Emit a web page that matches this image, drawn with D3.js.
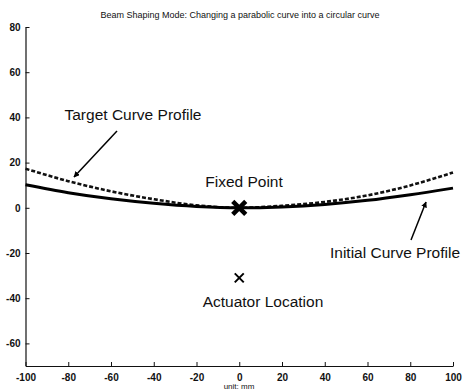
<!DOCTYPE html>
<html>
<head>
<meta charset="utf-8">
<script src="https://cdn.jsdelivr.net/npm/d3@7"></script>
<style>
  body { margin: 0; background: #fff; }
  svg { display: block; font-family: "Liberation Sans", Arial, sans-serif; }
</style>
</head>
<body>
<svg id="chart" width="464" height="391"></svg>
<script>
// values (unit: mm)
const xPos = [-100, -80, -60, -40, -20, 0, 20, 40, 60, 80, 100];
const targetCurve = [17.3, 11.8, 7.3, 3.8, 1.1, 0, 0.9, 2.6, 5.5, 9.9, 15.6];
const initialCurve = [10.2, 6.7, 4.0, 2.0, 0.6, 0, 0.4, 1.5, 3.3, 5.8, 8.7];
const fixedPoint = [0, 0];
const actuator = [0, -31];
const xTicks = [-100, -80, -60, -40, -20, 0, 20, 40, 60, 80, 100];
const yTicks = [-60, -40, -20, 0, 20, 40, 60, 80];

const svg = d3.select("#chart"),
    margin = { top: 27, right: 11, bottom: 25, left: 25.5 },
    width = +svg.attr("width") - margin.left - margin.right,
    height = +svg.attr("height") - margin.top - margin.bottom;

const g = svg.append("g").attr("transform", `translate(${margin.left},${margin.top})`);

const x = d3.scaleLinear().domain([-100, 100]).range([0, width]);
const y = d3.scaleLinear().domain([-70, 80]).range([height, 0]);

// axes, MATLAB style ticks pointing inward, plain hyphen for negatives
const fmt = d => String(d);
const xAxis = g.append("g")
    .attr("transform", `translate(0,${height})`)
    .call(d3.axisBottom(x).tickValues(xTicks).tickFormat(fmt).tickSize(-4).tickPadding(6).tickSizeOuter(0));
const yAxis = g.append("g")
    .call(d3.axisLeft(y).tickValues(yTicks).tickFormat(fmt).tickSize(-4).tickPadding(5).tickSizeOuter(0));

[xAxis, yAxis].forEach(a => {
    a.select(".domain").attr("stroke", "#111").attr("stroke-width", 1.2);
    a.selectAll(".tick line").attr("stroke", "#111");
    a.selectAll("text")
        .attr("fill", "#111")
        .style("font-size", "10px")
        .style("font-weight", "bold");
});
xAxis.selectAll(".tick text").attr("dy", "0.85em");

const line = d3.line()
    .x((d, i) => x(xPos[i]))
    .y(d => y(d))
    .curve(d3.curveMonotoneX);

g.append("path")
    .datum(targetCurve)
    .attr("fill", "none")
    .attr("stroke", "#111")
    .attr("stroke-width", 2.6)
    .attr("stroke-dasharray", "4,2")
    .attr("d", line);

g.append("path")
    .datum(initialCurve)
    .attr("fill", "none")
    .attr("stroke", "#000")
    .attr("stroke-width", 3)
    .attr("d", line);

// markers
function cross(cx, cy, r, w) {
    g.append("path")
        .attr("d", `M${cx - r},${cy - r}L${cx + r},${cy + r}M${cx - r},${cy + r}L${cx + r},${cy - r}`)
        .attr("stroke", "#000")
        .attr("stroke-width", w)
        .attr("fill", "none");
}
cross(x(fixedPoint[0]), y(fixedPoint[1]), 6.5, 4.5);
cross(x(actuator[0]), y(actuator[1]), 4.5, 2);

// arrows
svg.append("defs").append("marker")
    .attr("id", "head")
    .attr("viewBox", "0 0 10 10")
    .attr("refX", 9).attr("refY", 5)
    .attr("markerWidth", 6).attr("markerHeight", 6)
    .attr("markerUnits", "userSpaceOnUse")
    .attr("orient", "auto")
    .append("path")
    .attr("d", "M0,0L10,5L0,10z")
    .attr("fill", "#000");

function arrow(x1, y1, x2, y2) {
    svg.append("line")
        .attr("x1", x1).attr("y1", y1).attr("x2", x2).attr("y2", y2)
        .attr("stroke", "#000").attr("stroke-width", 1.5)
        .attr("marker-end", "url(#head)");
}
arrow(117, 131, 74, 177);
arrow(411, 240, 426, 202);

// labels
const labels = [
    { text: "Target Curve Profile", x: 133, y: 120 },
    { text: "Fixed Point", x: 244, y: 187 },
    { text: "Initial Curve Profile", x: 395, y: 258 },
    { text: "Actuator Location", x: 263, y: 307 }
];
svg.selectAll(".lbl")
    .data(labels)
    .join("text")
    .attr("class", "lbl")
    .attr("x", d => d.x)
    .attr("y", d => d.y)
    .attr("text-anchor", "middle")
    .attr("fill", "#111")
    .style("font-size", "15.5px")
    .text(d => d.text);

svg.append("text")
    .attr("x", 240).attr("y", 18)
    .attr("text-anchor", "middle")
    .attr("fill", "#111")
    .style("font-size", "9px")
    .text("Beam Shaping Mode: Changing a parabolic curve into a circular curve");

svg.append("text")
    .attr("x", 239).attr("y", 389)
    .attr("text-anchor", "middle")
    .attr("fill", "#111")
    .style("font-size", "8px")
    .text("unit: mm");
</script>
</body>
</html>
